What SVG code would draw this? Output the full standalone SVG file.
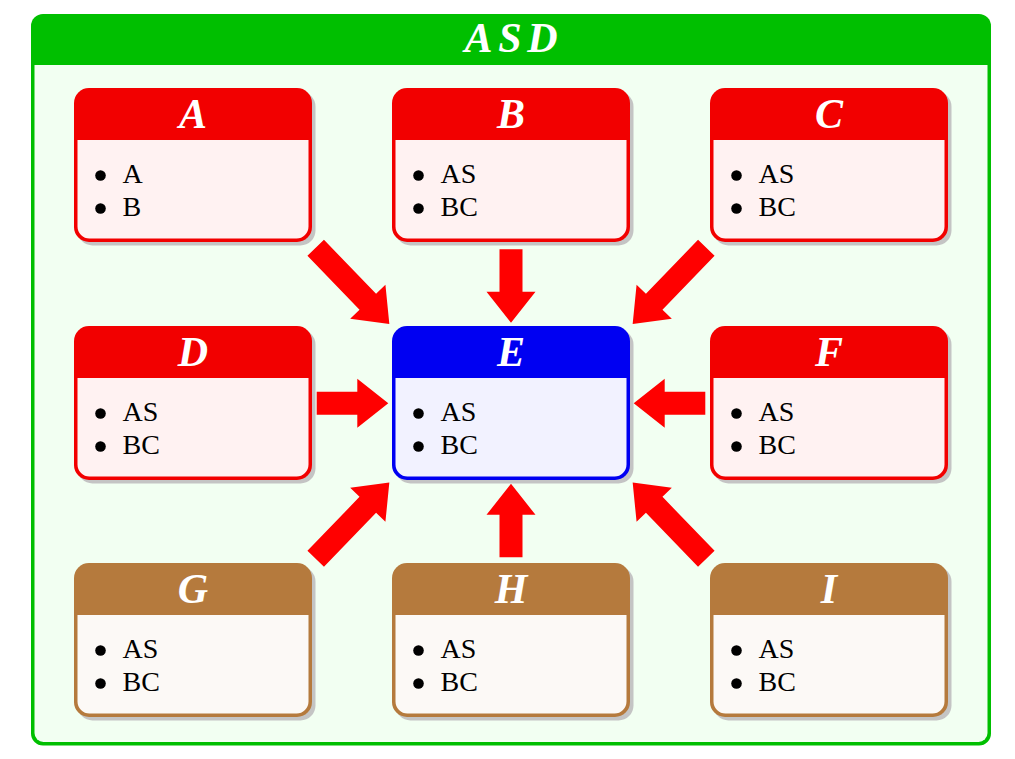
<svg xmlns="http://www.w3.org/2000/svg" xmlns:xlink="http://www.w3.org/1999/xlink" width="1015" height="759" viewBox="0 0 1015 759">
<style>
.ttl{font-family:"Liberation Serif","Times New Roman",serif;font-weight:bold;font-style:italic;font-size:42px;fill:#fff;text-anchor:middle}
.itm{font-family:"Liberation Serif","Times New Roman",serif;font-size:28px;fill:#000}
.shadow{fill:#c4c4c4}
.red .frame{fill:#f20000}.red .body{fill:#fff2f2}
.blue .frame{fill:#0000f2}.blue .body{fill:#f2f2ff}
.brown .frame{fill:#b57a3d}.brown .body{fill:#fcf9f6}
.arrow{fill:#ff0000}
</style>
<defs>
<path id="arD" d="M0,-11.5 H75 V-24.5 L106,0 L75,24.5 V11.5 H0 Z"/>
<path id="arV" d="M0,-11.5 H42.5 V-24.5 L73.5,0 L42.5,24.5 V11.5 H0 Z"/>
<path id="arH" d="M0,-11.5 H40.6 V-24.5 L71.6,0 L40.6,24.5 V11.5 H0 Z"/>
</defs>
<g id="ASD">
<rect x="31" y="14" width="960" height="731.5" rx="12" fill="#00bf00"/>
<path d="M34.5,65 H987.5 V733 A9,9 0 0 1 978.5,742 H43.5 A9,9 0 0 1 34.5,733 Z" fill="#f2fff2"/>
<text class="ttl" x="511" y="52" textLength="93" lengthAdjust="spacing">ASD</text>
</g>
<g id="A" class="red" transform="translate(74,88)">
<rect class="shadow" x="3.5" y="3.5" width="238" height="154" rx="15"/><rect class="frame" width="238" height="154" rx="15"/>
<path class="body" d="M3.5,52 H234.5 V138.5 A12,12 0 0 1 222.5,150.5 H15.5 A12,12 0 0 1 3.5,138.5 Z"/>
<circle cx="26.5" cy="87.5" r="5.3"/><circle cx="26.5" cy="120.5" r="5.3"/>
<text class="ttl" x="119" y="40">A</text><text class="itm" x="48.5" y="94.5">A</text><text class="itm" x="48.5" y="128">B</text></g>
<g id="B" class="red" transform="translate(392,88)">
<rect class="shadow" x="3.5" y="3.5" width="238" height="154" rx="15"/><rect class="frame" width="238" height="154" rx="15"/>
<path class="body" d="M3.5,52 H234.5 V138.5 A12,12 0 0 1 222.5,150.5 H15.5 A12,12 0 0 1 3.5,138.5 Z"/>
<circle cx="26.5" cy="87.5" r="5.3"/><circle cx="26.5" cy="120.5" r="5.3"/>
<text class="ttl" x="119" y="40">B</text><text class="itm" x="48.5" y="94.5">AS</text><text class="itm" x="48.5" y="128">BC</text></g>
<g id="C" class="red" transform="translate(710,88)">
<rect class="shadow" x="3.5" y="3.5" width="238" height="154" rx="15"/><rect class="frame" width="238" height="154" rx="15"/>
<path class="body" d="M3.5,52 H234.5 V138.5 A12,12 0 0 1 222.5,150.5 H15.5 A12,12 0 0 1 3.5,138.5 Z"/>
<circle cx="26.5" cy="87.5" r="5.3"/><circle cx="26.5" cy="120.5" r="5.3"/>
<text class="ttl" x="119" y="40">C</text><text class="itm" x="48.5" y="94.5">AS</text><text class="itm" x="48.5" y="128">BC</text></g>
<g id="D" class="red" transform="translate(74,326)">
<rect class="shadow" x="3.5" y="3.5" width="238" height="154" rx="15"/><rect class="frame" width="238" height="154" rx="15"/>
<path class="body" d="M3.5,52 H234.5 V138.5 A12,12 0 0 1 222.5,150.5 H15.5 A12,12 0 0 1 3.5,138.5 Z"/>
<circle cx="26.5" cy="87.5" r="5.3"/><circle cx="26.5" cy="120.5" r="5.3"/>
<text class="ttl" x="119" y="40">D</text><text class="itm" x="48.5" y="94.5">AS</text><text class="itm" x="48.5" y="128">BC</text></g>
<g id="E" class="blue" transform="translate(392,326)">
<rect class="shadow" x="3.5" y="3.5" width="238" height="154" rx="15"/><rect class="frame" width="238" height="154" rx="15"/>
<path class="body" d="M3.5,52 H234.5 V138.5 A12,12 0 0 1 222.5,150.5 H15.5 A12,12 0 0 1 3.5,138.5 Z"/>
<circle cx="26.5" cy="87.5" r="5.3"/><circle cx="26.5" cy="120.5" r="5.3"/>
<text class="ttl" x="119" y="40">E</text><text class="itm" x="48.5" y="94.5">AS</text><text class="itm" x="48.5" y="128">BC</text></g>
<g id="F" class="red" transform="translate(710,326)">
<rect class="shadow" x="3.5" y="3.5" width="238" height="154" rx="15"/><rect class="frame" width="238" height="154" rx="15"/>
<path class="body" d="M3.5,52 H234.5 V138.5 A12,12 0 0 1 222.5,150.5 H15.5 A12,12 0 0 1 3.5,138.5 Z"/>
<circle cx="26.5" cy="87.5" r="5.3"/><circle cx="26.5" cy="120.5" r="5.3"/>
<text class="ttl" x="119" y="40">F</text><text class="itm" x="48.5" y="94.5">AS</text><text class="itm" x="48.5" y="128">BC</text></g>
<g id="G" class="brown" transform="translate(74,563)">
<rect class="shadow" x="3.5" y="3.5" width="238" height="154" rx="15"/><rect class="frame" width="238" height="154" rx="15"/>
<path class="body" d="M3.5,52 H234.5 V138.5 A12,12 0 0 1 222.5,150.5 H15.5 A12,12 0 0 1 3.5,138.5 Z"/>
<circle cx="26.5" cy="87.5" r="5.3"/><circle cx="26.5" cy="120.5" r="5.3"/>
<text class="ttl" x="119" y="40">G</text><text class="itm" x="48.5" y="94.5">AS</text><text class="itm" x="48.5" y="128">BC</text></g>
<g id="H" class="brown" transform="translate(392,563)">
<rect class="shadow" x="3.5" y="3.5" width="238" height="154" rx="15"/><rect class="frame" width="238" height="154" rx="15"/>
<path class="body" d="M3.5,52 H234.5 V138.5 A12,12 0 0 1 222.5,150.5 H15.5 A12,12 0 0 1 3.5,138.5 Z"/>
<circle cx="26.5" cy="87.5" r="5.3"/><circle cx="26.5" cy="120.5" r="5.3"/>
<text class="ttl" x="119" y="40">H</text><text class="itm" x="48.5" y="94.5">AS</text><text class="itm" x="48.5" y="128">BC</text></g>
<g id="I" class="brown" transform="translate(710,563)">
<rect class="shadow" x="3.5" y="3.5" width="238" height="154" rx="15"/><rect class="frame" width="238" height="154" rx="15"/>
<path class="body" d="M3.5,52 H234.5 V138.5 A12,12 0 0 1 222.5,150.5 H15.5 A12,12 0 0 1 3.5,138.5 Z"/>
<circle cx="26.5" cy="87.5" r="5.3"/><circle cx="26.5" cy="120.5" r="5.3"/>
<text class="ttl" x="119" y="40">I</text><text class="itm" x="48.5" y="94.5">AS</text><text class="itm" x="48.5" y="128">BC</text></g>
<g id="connectors" class="arrow">
<use xlink:href="#arD" transform="translate(315.7,247.8) rotate(46)"/>
<use xlink:href="#arD" transform="translate(706.3,247.8) rotate(134)"/>
<use xlink:href="#arD" transform="translate(315.7,558.8) rotate(-46)"/>
<use xlink:href="#arD" transform="translate(706.3,558.8) rotate(-134)"/>
<use xlink:href="#arV" transform="translate(511,249.3) rotate(90)"/>
<use xlink:href="#arV" transform="translate(511,557.3) rotate(-90)"/>
<use xlink:href="#arH" transform="translate(316.7,403.3)"/>
<use xlink:href="#arH" transform="translate(705.3,403.3) rotate(180)"/>
</g>
</svg>
